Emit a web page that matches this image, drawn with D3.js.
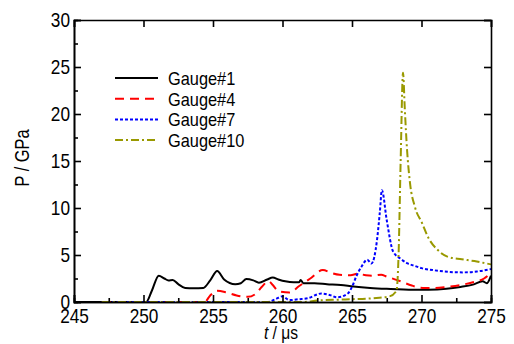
<!DOCTYPE html>
<html lang="en">
<head>
<meta charset="UTF-8">
<title>Gauge pressure</title>
<script src="https://cdn.jsdelivr.net/npm/d3@7/dist/d3.min.js"></script>
<style>
  body { margin: 0; background: #fff; }
  svg text { font-family: "Liberation Sans", Arial, sans-serif; fill: #000; }
</style>
</head>
<body>
<svg width="514" height="344"></svg>
<script>
// time / pressure pairs, [t (us), P (GPa)]
var gauge1 = [[245,0],[250.2,0],[250.6,1.2],[251.1,2.8],[251.5,2.5],[251.8,2.3],[252.1,2.35],[252.5,1.9],[253,1.5],[253.6,1.45],[254.3,1.5],[254.8,2.3],[255.3,3.3],[255.8,2.4],[256.6,1.9],[257,2.0],[257.4,2.45],[257.9,2.3],[258.3,2.05],[258.9,2.4],[259.3,2.6],[259.7,2.4],[260.2,2.2],[260.8,2.1],[261.2,2.1],[261.3,2.35],[261.5,2.0],[262.3,2.0],[263.2,1.9],[264.2,1.8],[265.1,1.65],[266.3,1.5],[267.5,1.4],[269.4,1.3],[270.5,1.3],[271.8,1.4],[272.8,1.6],[273.7,1.85],[274.4,2.2],[274.7,2.0],[275,2.8]];
var gauge4 = [[247,0],[254.4,0],[254.8,0.7],[255.3,1.2],[256,1.0],[256.7,0.7],[257.5,0.55],[258.1,0.9],[258.5,1.6],[259,2.2],[259.3,1.8],[259.7,1.15],[260.5,1.0],[261.2,1.7],[262,2.5],[262.9,3.4],[263.5,3.1],[264.1,2.9],[264.9,2.85],[265.4,3.0],[266,2.85],[266.5,2.8],[267.1,2.9],[267.5,2.7],[268.5,2.2],[269.3,1.75],[270.1,1.5],[271,1.5],[271.8,1.6],[272.8,1.8],[273.7,2.1],[274.5,2.5],[275,3.1]];
var gauge7 = [[247,0],[258.9,0],[259.5,0.3],[260,0.6],[260.5,0.2],[261.2,0.3],[261.8,0.4],[262.8,0.9],[263.5,0.7],[263.9,0.5],[264.7,0.9],[265.0,1.6],[265.3,2.7],[265.7,3.8],[266.1,4.5],[266.4,4.1],[266.8,6.6],[267.0,9.5],[267.15,11.9],[267.5,8.7],[267.95,5.4],[268.5,4.6],[269,4.1],[269.5,3.85],[270,3.6],[270.8,3.4],[272,3.2],[273,3.15],[274,3.25],[275,3.5]];
var gauge10 = [[247,0],[261.5,0],[262.5,0.15],[264,0.25],[265,0.3],[266.5,0.4],[267.7,0.6],[268.2,1.2],[268.35,5],[268.5,15],[268.67,24.4],[268.8,20.5],[268.96,16.2],[269.17,12.7],[269.53,10.1],[270.04,8.4],[270.47,6.9],[271.19,5.5],[271.9,4.8],[272.9,4.55],[273.8,4.35],[275,4.0]];

var seriesNames = ["Gauge#1","Gauge#4","Gauge#7","Gauge#10"];
var xTicks = [245,250,255,260,265,270,275];
var yTicks = [0,5,10,15,20,25,30];

var series = [
  {name: seriesNames[0], data: gauge1, color: "#000000", dash: null, w: 2},
  {name: seriesNames[1], data: gauge4, color: "#ff0000", dash: "9,6", w: 2},
  {name: seriesNames[2], data: gauge7, color: "#0000ff", dash: "3,2", w: 2},
  {name: seriesNames[3], data: gauge10, color: "#999900", dash: "8,3,2,3", w: 2}
];

var svg = d3.select("svg");
var marge = {top: 20, right: 23, bottom: 42, left: 74};
var w = 514 - marge.left - marge.right;
var h = 344 - marge.top - marge.bottom;
var g = svg.append("g").attr("transform", "translate(" + marge.left + "," + marge.top + ")");

var x = d3.scaleLinear().domain([245, 275]).range([0, w]);
var y = d3.scaleLinear().domain([0, 30]).range([h, 0]);

// clip so lines stay inside the frame
svg.append("defs").append("clipPath").attr("id", "clip")
  .append("rect").attr("width", w).attr("height", h);

// lines
var line = d3.line()
  .x(function(d) { return x(d[0]); })
  .y(function(d) { return y(d[1]); })
  .curve(d3.curveMonotoneX);

g.append("g").attr("clip-path", "url(#clip)")
  .selectAll("path").data(series).enter().append("path")
  .attr("d", function(s) { return line(s.data); })
  .attr("fill", "none")
  .attr("stroke", function(s) { return s.color; })
  .attr("stroke-width", function(s) { return s.w; })
  .attr("stroke-dasharray", function(s) { return s.dash; });

// axes, ticks point inward
var minorX = d3.range(247.5, 275, 5);
var minorY = d3.range(2.5, 30, 5);

g.append("g").attr("transform", "translate(0," + h + ")")
  .call(d3.axisBottom(x).tickValues(xTicks).tickSize(-7).tickPadding(6).tickFormat(d3.format("d")));
g.append("g").attr("transform", "translate(0," + h + ")")
  .call(d3.axisBottom(x).tickValues(minorX).tickSize(-4).tickFormat(""));
g.append("g")
  .call(d3.axisLeft(y).tickValues(yTicks).tickSize(-7).tickPadding(4).tickFormat(d3.format("d")));
g.append("g")
  .call(d3.axisLeft(y).tickValues(minorY).tickSize(-4).tickFormat(""));
g.append("g")
  .call(d3.axisTop(x).tickValues(xTicks).tickSize(-7).tickFormat(""));
g.append("g").attr("transform", "translate(" + w + ",0)")
  .call(d3.axisRight(y).tickValues(yTicks).tickSize(-7).tickFormat(""));

g.selectAll(".domain").attr("stroke", "#000").attr("stroke-width", 1.6);
g.selectAll(".tick line").attr("stroke", "#000").attr("stroke-width", 1.6);
g.selectAll(".tick text").style("font-size", "21px").attr("fill", "#000");

// axis titles
svg.append("text")
  .attr("transform", "translate(29,158) rotate(-90)")
  .attr("text-anchor", "middle")
  .style("font-size", "20px")
  .text("P / GPa");

var xt = svg.append("text")
  .attr("x", 281).attr("y", 339)
  .attr("text-anchor", "middle")
  .style("font-size", "19px");
xt.append("tspan").style("font-style", "italic").text("t");
xt.append("tspan").text(" / μs");

// legend
var legend = svg.append("g").selectAll("g").data(series).enter().append("g")
  .attr("class", "legend")
  .attr("transform", function(d, i) { return "translate(115," + (78 + i * 20.7) + ")"; });
legend.append("line")
  .attr("x1", 0).attr("x2", 43)
  .attr("stroke", function(s) { return s.color; })
  .attr("stroke-width", function(s) { return s.w; })
  .attr("stroke-dasharray", function(s) { return s.dash; });
legend.append("text")
  .attr("x", 53).attr("y", 7)
  .style("font-size", "19px")
  .text(function(s) { return s.name; });

// the original lettering is condensed
svg.selectAll("text").each(function() {
  var len = this.getComputedTextLength();
  var k = d3.select(this.parentNode).classed("legend") ? 0.86 : 0.82;
  if (len > 0) d3.select(this).attr("textLength", len * k).attr("lengthAdjust", "spacingAndGlyphs");
});
</script>
</body>
</html>
